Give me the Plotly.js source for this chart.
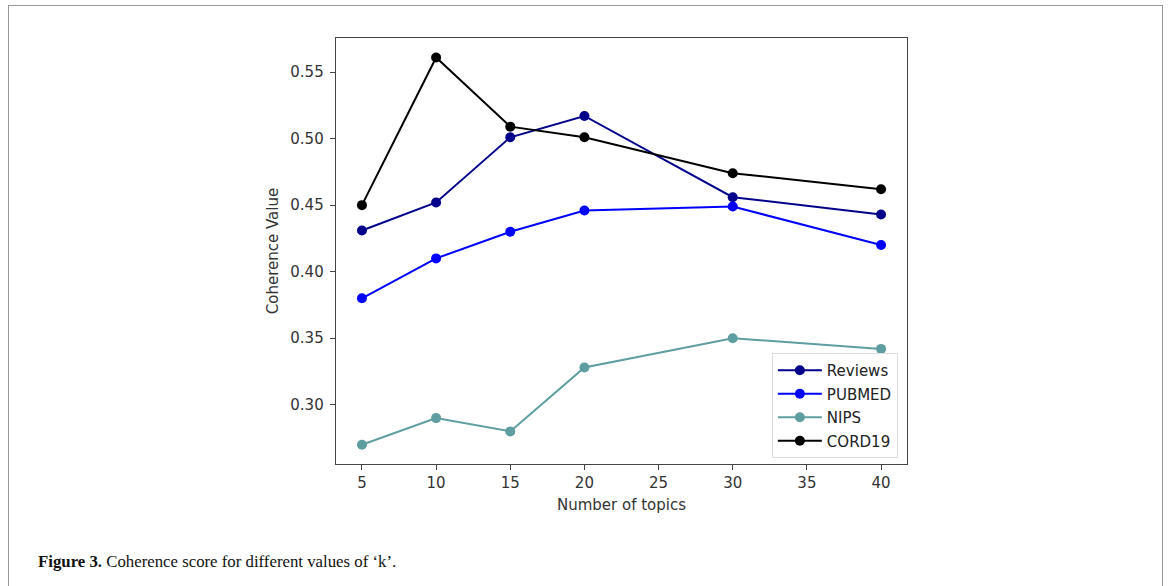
<!DOCTYPE html>
<html>
<head>
<meta charset="utf-8">
<script src="https://cdn.plot.ly/plotly-3.0.1.min.js"></script>
<style>
  html, body { margin: 0; padding: 0; background: #fff; }
  #wrap { position: relative; width: 1170px; height: 586px; overflow: hidden; }
  #frame { position: absolute; left: 8px; top: 5px; width: 1155px; height: 600px; border: 1.5px solid #999; box-sizing: border-box; }
  #chart { position: absolute; left: 0; top: 0; width: 1170px; height: 586px; }
</style>
</head>
<body>
<div id="wrap">
  <div id="frame"></div>
  <div id="chart"></div>
</div>
<script>
const topics = [5, 10, 15, 20, 30, 40];
const reviews = [0.431, 0.452, 0.501, 0.517, 0.456, 0.443];
const pubmed  = [0.380, 0.410, 0.430, 0.446, 0.449, 0.420];
const nips    = [0.270, 0.290, 0.280, 0.328, 0.350, 0.342];
const cord19  = [0.450, 0.561, 0.509, 0.501, 0.474, 0.462];
const seriesNames = ['Reviews', 'PUBMED', 'NIPS', 'CORD19'];
const seriesColors = ['#00008B', '#0000FF', '#5F9EA0', '#000000'];
const xTicks = [5, 10, 15, 20, 25, 30, 35, 40];
const yTicks = [0.30, 0.35, 0.40, 0.45, 0.50, 0.55];

const allY = [reviews, pubmed, nips, cord19];
const traces = allY.map((ys, i) => ({
  x: topics, y: ys, name: seriesNames[i], type: 'scatter', mode: 'lines+markers',
  legendgroup: 'g' + i,
  line: {color: seriesColors[i], width: 2},
  marker: {color: seriesColors[i], size: 10}
}));

const W = 1170, H = 586;
const L = 336, R = 907, T = 38, B = 464;
const axFont = {family: 'DejaVu Sans', size: 15, color: '#333'};

const layout = {
  width: W, height: H,
  paper_bgcolor: 'rgba(0,0,0,0)', plot_bgcolor: '#fff',
  margin: {l: L, r: W - R, t: T, b: H - B, pad: 0},
  showlegend: true,
  font: axFont,
  xaxis: {
    range: [3.25, 41.75], tickvals: xTicks, ticktext: xTicks.map(String),
    showgrid: false, zeroline: false, showline: true, mirror: true,
    linecolor: '#444', linewidth: 1.3, ticks: 'outside', ticklen: 5, tickcolor: '#444',
    tickfont: axFont,
    title: {text: 'Number of topics', font: axFont, standoff: 8}
  },
  yaxis: {
    range: [0.2555, 0.5756], tickvals: yTicks, ticktext: yTicks.map(v => v.toFixed(2)),
    showgrid: false, zeroline: false, showline: true, mirror: true,
    linecolor: '#444', linewidth: 1.3, ticks: 'outside', ticklen: 5, tickcolor: '#444',
    tickfont: axFont, ticklabelstandoff: 3,
    title: {text: 'Coherence Value', font: axFont, standoff: 8}
  },
  legend: {
    x: 0.984, y: 0.014, xanchor: 'right', yanchor: 'bottom',
    bgcolor: 'rgba(255,255,255,0.8)', bordercolor: '#ddd', borderwidth: 1,
    font: {family: 'DejaVu Sans', size: 15, color: '#222'},
    traceorder: 'grouped', tracegroupgap: 1, itemwidth: 44
  },
  annotations: [{
    xref: 'paper', yref: 'paper',
    x: (36 - L) / (R - L), y: (B - 561) / (B - T),
    xanchor: 'left', yanchor: 'middle', showarrow: false,
    text: '<b>Figure 3.</b> Coherence score for different values of ‘k’.',
    font: {family: 'Liberation Serif', size: 16.8, color: '#111'}
  }]
};

Plotly.newPlot('chart', traces, layout, {displayModeBar: false, staticPlot: true});
</script>
</body>
</html>
